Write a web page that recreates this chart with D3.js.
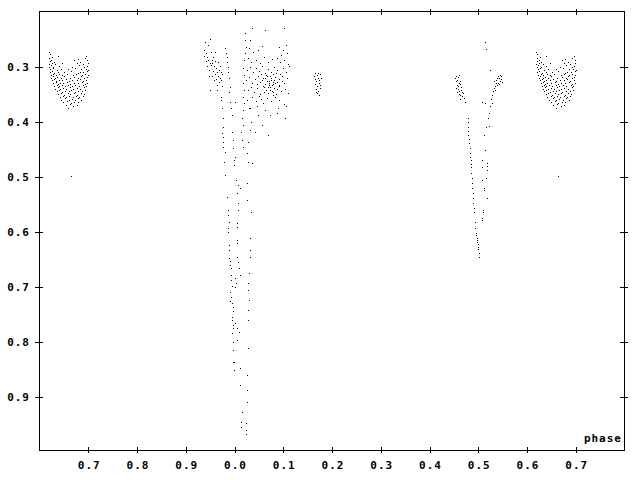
<!DOCTYPE html>
<html>
<head>
<meta charset="utf-8">
<script src="https://cdn.jsdelivr.net/npm/d3@7"></script>
<style>
html,body{margin:0;padding:0;background:#fff;}
svg{display:block;}
text{font-family:"DejaVu Sans Mono",monospace;font-weight:bold;font-size:11px;letter-spacing:1px;fill:#000;}
</style>
</head>
<body>
<svg id="chart" width="640" height="480"></svg>
<script>
// ---- data: [phase, relative magnitude] ----
const maxLight = [
[0.620,0.275],[0.622,0.279],[0.639,0.282],[0.697,0.281],
[0.621,0.286],[0.627,0.284],[0.680,0.287],[0.694,0.285],
[0.622,0.291],[0.625,0.289],[0.630,0.292],[0.672,0.290],[0.685,0.292],[0.699,0.289],
[0.620,0.296],[0.626,0.294],[0.633,0.297],[0.648,0.295],[0.677,0.294],[0.690,0.297],[0.700,0.295],
[0.621,0.301],[0.624,0.299],[0.629,0.302],[0.641,0.300],[0.668,0.301],[0.682,0.299],[0.693,0.302],[0.698,0.300],
[0.623,0.306],[0.628,0.304],[0.636,0.307],[0.645,0.305],[0.660,0.306],[0.674,0.304],[0.687,0.306],[0.696,0.305],[0.701,0.307],
[0.622,0.311],[0.626,0.309],[0.631,0.312],[0.639,0.310],[0.652,0.311],[0.665,0.309],[0.679,0.312],[0.684,0.310],[0.691,0.311],[0.699,0.309],
[0.624,0.316],[0.629,0.314],[0.634,0.317],[0.642,0.315],[0.648,0.316],[0.657,0.314],[0.670,0.316],[0.676,0.315],[0.688,0.317],[0.694,0.314],[0.700,0.316],
[0.625,0.321],[0.628,0.319],[0.633,0.322],[0.637,0.320],[0.645,0.321],[0.651,0.319],[0.663,0.322],[0.672,0.320],[0.681,0.321],[0.686,0.319],[0.693,0.322],[0.698,0.320],
[0.627,0.326],[0.631,0.324],[0.635,0.327],[0.640,0.325],[0.648,0.326],[0.655,0.324],[0.661,0.327],[0.668,0.325],[0.677,0.326],[0.684,0.324],[0.690,0.327],[0.697,0.325],
[0.629,0.331],[0.634,0.329],[0.638,0.332],[0.643,0.330],[0.650,0.331],[0.658,0.329],[0.664,0.332],[0.671,0.330],[0.679,0.331],[0.688,0.329],[0.694,0.332],[0.699,0.330],
[0.631,0.336],[0.636,0.334],[0.641,0.337],[0.647,0.335],[0.653,0.336],[0.660,0.334],[0.667,0.337],[0.674,0.335],[0.682,0.336],[0.691,0.334],[0.696,0.337],
[0.633,0.341],[0.638,0.339],[0.644,0.342],[0.650,0.340],[0.656,0.341],[0.663,0.339],[0.670,0.342],[0.677,0.340],[0.685,0.341],[0.693,0.339],
[0.636,0.346],[0.641,0.344],[0.648,0.347],[0.654,0.345],[0.661,0.346],[0.666,0.344],[0.673,0.347],[0.681,0.345],[0.689,0.346],[0.695,0.344],
[0.639,0.351],[0.645,0.349],[0.652,0.352],[0.659,0.350],[0.664,0.351],[0.671,0.349],[0.678,0.352],[0.686,0.350],[0.692,0.351],
[0.643,0.356],[0.650,0.354],[0.656,0.357],[0.662,0.355],[0.669,0.356],[0.676,0.354],[0.683,0.357],[0.690,0.355],
[0.646,0.361],[0.654,0.359],[0.661,0.362],[0.667,0.360],[0.674,0.361],[0.681,0.359],[0.687,0.362],
[0.650,0.366],[0.658,0.364],[0.665,0.367],[0.672,0.365],[0.679,0.366],
[0.655,0.371],[0.663,0.369],[0.670,0.372],[0.677,0.370],
[0.660,0.376],
[0.665,0.500]
];

const primaryBefore = [
[-0.059,0.256],[-0.049,0.251],[-0.061,0.271],[-0.057,0.276],[-0.055,0.284],[-0.047,0.275],[-0.039,0.275],
[-0.061,0.282],[-0.053,0.289],[-0.049,0.295],[-0.055,0.300],[-0.051,0.307],[-0.045,0.295],[-0.041,0.300],
[-0.037,0.304],[-0.043,0.309],[-0.039,0.315],[-0.035,0.311],[-0.031,0.307],[-0.033,0.318],[-0.029,0.322],
[-0.037,0.324],[-0.045,0.318],[-0.041,0.326],[-0.031,0.329],[-0.027,0.326],[-0.035,0.335],[-0.049,0.344],
[-0.035,0.344],[-0.025,0.336],[-0.047,0.298],[-0.043,0.284],[-0.033,0.293],[-0.029,0.300],[-0.057,0.291],
[-0.051,0.318],[-0.025,0.315],[-0.053,0.262],[-0.045,0.289],[-0.039,0.291],[-0.027,0.311]
];

const primaryTrackA = [
[-0.027,0.356],[-0.027,0.362],[-0.025,0.376],[-0.023,0.395],[-0.023,0.411],[-0.025,0.422],[-0.023,0.429],
[-0.023,0.438],[-0.023,0.447],[-0.018,0.456],[-0.021,0.475],[-0.018,0.498],[-0.014,0.538],[-0.012,0.562],
[-0.012,0.571],[-0.010,0.584],[-0.012,0.595],[-0.012,0.602],[-0.010,0.625],[-0.010,0.635],[-0.010,0.649],
[-0.008,0.662],[-0.006,0.680],[-0.008,0.711],[-0.006,0.720],[-0.004,0.731],[-0.002,0.738],[-0.004,0.756],
[-0.002,0.771],[-0.004,0.785],[-0.002,0.802],[-0.002,0.816],[-0.002,0.838],[0.000,0.853],
[-0.009,0.655],[-0.007,0.668],[-0.006,0.690],[-0.005,0.700],[-0.008,0.727],[-0.003,0.745],[-0.004,0.762],[-0.003,0.776]
];

const primaryTrackB = [
[-0.018,0.267],[-0.016,0.276],[-0.014,0.284],[-0.014,0.293],[-0.012,0.302],[-0.012,0.311],[-0.010,0.322],
[-0.008,0.338],[-0.010,0.347],[-0.008,0.365],[-0.006,0.376],[-0.004,0.389],[-0.004,0.420],[-0.002,0.435],
[-0.002,0.449],[0.002,0.465],[0.000,0.471],[0.000,0.480],[0.004,0.507],[0.008,0.516],[0.012,0.522],
[0.006,0.531],[0.008,0.549],[0.008,0.562],[0.006,0.585],[0.006,0.593],[0.006,0.616],[0.006,0.622],
[0.006,0.647],[0.008,0.656],[0.010,0.667],[0.012,0.680],[0.002,0.685],[0.004,0.695],[0.002,0.702],
[0.002,0.767],[0.006,0.776],[0.010,0.784],[0.006,0.798],[0.000,0.838],[0.012,0.849],[0.012,0.880],
[0.027,0.911],[0.016,0.929],[0.014,0.947],[0.025,0.949],[0.014,0.956],[0.025,0.962],[0.025,0.969],
[0.002,0.365]
];

const primaryTrackC = [
[0.029,0.762],[0.029,0.744],[0.031,0.725],[0.029,0.707],[0.029,0.695],[0.031,0.676],[0.033,0.647],
[0.033,0.635],[0.033,0.613],[0.035,0.565],[0.027,0.544],[0.027,0.513],[0.029,0.475],[0.037,0.476],
[0.027,0.458],[0.018,0.447],[0.016,0.435],[0.014,0.420],[0.018,0.407],[0.016,0.395],[0.018,0.380],
[0.020,0.367],[0.018,0.356],[0.033,0.416],[0.029,0.813],[0.027,0.862],[0.027,0.889],[0.029,0.438],
[0.035,0.402],[0.031,0.376],
[0.023,0.240],[0.023,0.253],[0.025,0.265],[0.023,0.276],[0.020,0.289],[0.018,0.304],[0.020,0.316],
[0.018,0.331],[0.020,0.344],[0.033,0.253],[0.037,0.231],[0.064,0.235],[0.102,0.231]
];

const primaryAfter = [
[0.031,0.267],[0.039,0.275],[0.049,0.271],[0.057,0.264],[0.092,0.266],[0.100,0.271],[0.107,0.262],[0.096,0.280],[0.109,0.276],
[0.029,0.286],[0.035,0.293],[0.045,0.289],[0.053,0.295],[0.061,0.284],[0.070,0.293],[0.088,0.286],[0.094,0.293],[0.102,0.289],[0.111,0.296],[0.078,0.287],
[0.027,0.307],[0.033,0.302],[0.039,0.311],[0.045,0.304],[0.051,0.309],[0.057,0.300],[0.064,0.313],[0.070,0.306],[0.076,0.311],[0.082,0.302],[0.088,0.307],[0.094,0.315],[0.100,0.304],[0.107,0.311],[0.113,0.300],
[0.025,0.326],[0.031,0.320],[0.037,0.331],[0.043,0.324],[0.049,0.318],[0.053,0.329],[0.059,0.322],[0.064,0.333],[0.068,0.318],[0.072,0.327],[0.076,0.322],[0.080,0.333],[0.084,0.320],[0.088,0.329],[0.092,0.324],[0.098,0.318],[0.102,0.331],[0.109,0.322],[0.057,0.326],[0.074,0.318],
[0.029,0.344],[0.035,0.338],[0.041,0.347],[0.047,0.340],[0.053,0.351],[0.059,0.336],[0.066,0.344],[0.070,0.349],[0.074,0.338],[0.078,0.345],[0.082,0.340],[0.086,0.351],[0.092,0.336],[0.096,0.345],[0.104,0.342],[0.111,0.349],[0.061,0.347],[0.072,0.334],
[0.027,0.362],[0.037,0.356],[0.045,0.364],[0.051,0.355],[0.059,0.367],[0.068,0.358],[0.076,0.364],[0.084,0.356],[0.092,0.362],[0.102,0.369],[0.080,0.353],[0.055,0.360],
[0.033,0.376],[0.047,0.373],[0.064,0.380],[0.090,0.376],[0.107,0.373],
[0.049,0.389],[0.074,0.389],[0.088,0.386],[0.043,0.420],[0.070,0.425],[0.029,0.438],[0.057,0.407],[0.104,0.395],
[0.063,0.321],[0.067,0.327],[0.071,0.331],[0.075,0.325],[0.079,0.329],[0.083,0.326],[0.069,0.339],[0.073,0.343],[0.077,0.335],[0.081,0.347],
[0.085,0.331],[0.065,0.316],[0.089,0.342],[0.061,0.338],[0.055,0.314],[0.047,0.332],[0.093,0.334],[0.099,0.327],[0.079,0.315],[0.086,0.313]
];

const bumpNear017 = [
[0.165,0.318],[0.167,0.313],[0.170,0.316],[0.173,0.312],[0.176,0.315],[0.166,0.324],[0.169,0.327],
[0.172,0.322],[0.175,0.326],[0.178,0.321],[0.167,0.333],[0.171,0.336],[0.174,0.331],[0.177,0.335],
[0.169,0.342],[0.173,0.345],[0.176,0.340],[0.171,0.350],[0.174,0.353],[0.168,0.347]
];

const secondaryBefore = [
[0.454,0.322],[0.456,0.318],[0.459,0.320],[0.462,0.317],[0.455,0.328],[0.458,0.326],[0.461,0.330],
[0.464,0.327],[0.457,0.334],[0.460,0.336],[0.463,0.333],[0.466,0.338],[0.455,0.340],[0.459,0.342],
[0.462,0.345],[0.465,0.343],[0.468,0.347],[0.457,0.348],[0.461,0.351],[0.464,0.353],[0.467,0.355],
[0.470,0.350],[0.463,0.360],[0.471,0.358],[0.473,0.365]
];

const secondaryIngress = [
[0.479,0.395],[0.480,0.402],[0.479,0.411],[0.480,0.418],[0.481,0.426],[0.482,0.432],[0.483,0.440],
[0.484,0.449],[0.484,0.458],[0.485,0.465],[0.486,0.471],[0.486,0.478],[0.486,0.484],[0.487,0.494],
[0.488,0.503],[0.488,0.513],[0.489,0.522],[0.490,0.531],[0.490,0.540],[0.491,0.549],[0.492,0.558],
[0.492,0.566],[0.494,0.584],[0.495,0.595],[0.496,0.604],[0.497,0.607],[0.498,0.612],[0.498,0.616],
[0.499,0.620],[0.500,0.624],[0.500,0.629],[0.501,0.633],[0.502,0.640],[0.502,0.647]
];

const secondaryEgress = [
[0.508,0.580],[0.509,0.576],[0.510,0.565],[0.510,0.561],[0.518,0.540],[0.512,0.525],[0.512,0.521],
[0.508,0.507],[0.516,0.503],[0.518,0.489],[0.508,0.484],[0.518,0.481],[0.518,0.476],[0.508,0.471],
[0.514,0.453],[0.512,0.426],[0.516,0.411],[0.524,0.410],[0.522,0.395],[0.523,0.386],[0.508,0.366],
[0.514,0.368],[0.526,0.372],[0.530,0.367],
[0.514,0.256],[0.516,0.269],[0.525,0.308]
];

const secondaryAfter = [
[0.531,0.345],[0.533,0.340],[0.535,0.336],[0.537,0.331],[0.534,0.328],[0.538,0.325],[0.540,0.322],
[0.542,0.318],[0.544,0.321],[0.546,0.316],[0.541,0.330],[0.545,0.327],[0.547,0.324],[0.539,0.335],
[0.543,0.333],[0.548,0.319],[0.536,0.343],[0.529,0.352],[0.527,0.360],[0.549,0.329]
];

const xTickValues = [-0.3,-0.2,-0.1,0.0,0.1,0.2,0.3,0.4,0.5,0.6,0.7];
const yTickValues = [0.3,0.4,0.5,0.6,0.7,0.8,0.9];
const xLabel = "phase";

// ---- drawing ----
const svg = d3.select("#chart");
const x = d3.scaleLinear().domain([-0.4, 0.8]).range([39, 624]);
const y = d3.scaleLinear().domain([0.2, 1.0]).range([11, 451]);

const all = [].concat(maxLight, primaryBefore, primaryTrackA, primaryTrackB, primaryTrackC,
  primaryAfter, bumpNear017, secondaryBefore, secondaryIngress, secondaryEgress, secondaryAfter);

// repeat each cycle over the displayed phase range
const [d0, d1] = x.domain();
const pts = [];
all.forEach(([p, m]) => {
  [-1, 0, 1].forEach(k => {
    const q = p + k;
    if (q >= d0 && q <= d1) pts.push([q, m]);
  });
});

svg.append("g").selectAll("rect").data(pts).join("rect")
  .attr("x", d => Math.round(x(d[0])))
  .attr("y", d => Math.round(y(d[1])))
  .attr("width", 1).attr("height", 1)
  .attr("fill", "#000")
  .attr("shape-rendering", "crispEdges");

// frame
svg.append("rect")
  .attr("x", x(d0) + 0.5).attr("y", y(0.2) + 0.5)
  .attr("width", x(d1) - x(d0)).attr("height", 439)
  .attr("fill", "none").attr("stroke", "#000").attr("stroke-width", 1)
  .attr("shape-rendering", "crispEdges");

const fmtPhase = v => { let r = ((v % 1) + 1) % 1; if (Math.abs(r - 1) < 1e-9) r = 0; return d3.format(".1f")(r); };

// bottom axis
const gb = svg.append("g").attr("transform", "translate(0.5,447)")
  .call(d3.axisBottom(x).tickValues(xTickValues).tickSize(6).tickSizeOuter(0).tickPadding(8).tickFormat(fmtPhase));
// top axis
const gt = svg.append("g").attr("transform", "translate(0.5,15)")
  .call(d3.axisTop(x).tickValues(xTickValues).tickSize(6).tickSizeOuter(0).tickFormat(""));
// left axis
const gl = svg.append("g").attr("transform", "translate(43,0.5)")
  .call(d3.axisLeft(y).tickValues(yTickValues).tickSize(8).tickSizeOuter(0).tickPadding(5).tickFormat(d3.format(".1f")));
// right axis
const gr = svg.append("g").attr("transform", "translate(620,0.5)")
  .call(d3.axisRight(y).tickValues(yTickValues).tickSize(8).tickSizeOuter(0).tickFormat(""));

[gb, gt, gl, gr].forEach(g => {
  g.select(".domain").remove();
  g.selectAll(".tick line").attr("stroke", "#000").attr("shape-rendering", "crispEdges");
  g.selectAll("text").attr("font-family", null).attr("font-size", null).attr("fill", "#000");
});
gb.selectAll("text").attr("dx", "0.5");
gl.selectAll("text").attr("dy", "0.36em");

svg.append("text").attr("x", 622).attr("y", 442).attr("text-anchor", "end").text(xLabel);
</script>
</body>
</html>
